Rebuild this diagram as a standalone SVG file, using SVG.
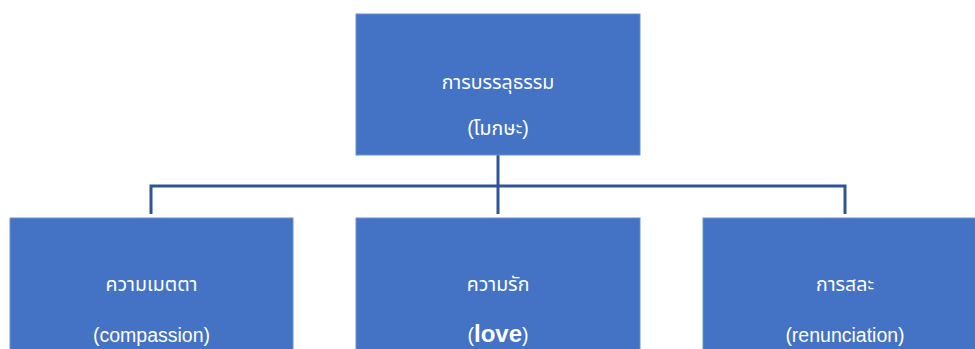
<svg xmlns="http://www.w3.org/2000/svg" width="975" height="349" viewBox="0 0 975 349">
<style>
.box{fill:#4472C4;stroke:#6A8FD0;stroke-width:1}
.t{fill:#FFFFFF;font-family:"Liberation Sans","Noto Sans Thai","Noto Sans",sans-serif;font-size:19.5px;text-anchor:middle}
.c{fill:none;stroke:#2F5597;stroke-width:3}
</style>
<rect width="975" height="349" fill="#FFFFFF"/>
<g id="connectors">
<path class="c" d="M498 155 V186"/>
<path class="c" d="M151 214 V186 H845 V214"/>
<path class="c" d="M498 186 V214"/>
</g>
<g id="root">
<rect class="box" x="356" y="14" width="284" height="141"/>
<text class="t" x="498" y="89">การบรรลุธรรม</text>
<text class="t" x="498" y="135">(โมกษะ)</text>
</g>
<g id="compassion">
<rect class="box" x="10" y="218" width="283" height="141"/>
<text class="t" x="151.5" y="291">ความเมตตา</text>
<text class="t" x="151.5" y="342">(compassion)</text>
</g>
<g id="love">
<rect class="box" x="356" y="218" width="284" height="141"/>
<text class="t" x="498" y="291">ความรัก</text>
<text class="t" x="498" y="342">(<tspan font-weight="bold" font-size="24px">love</tspan>)</text>
</g>
<g id="renunciation">
<rect class="box" x="703" y="218" width="284" height="141"/>
<text class="t" x="845" y="291">การสละ</text>
<text class="t" x="845" y="342">(renunciation)</text>
</g>
</svg>
